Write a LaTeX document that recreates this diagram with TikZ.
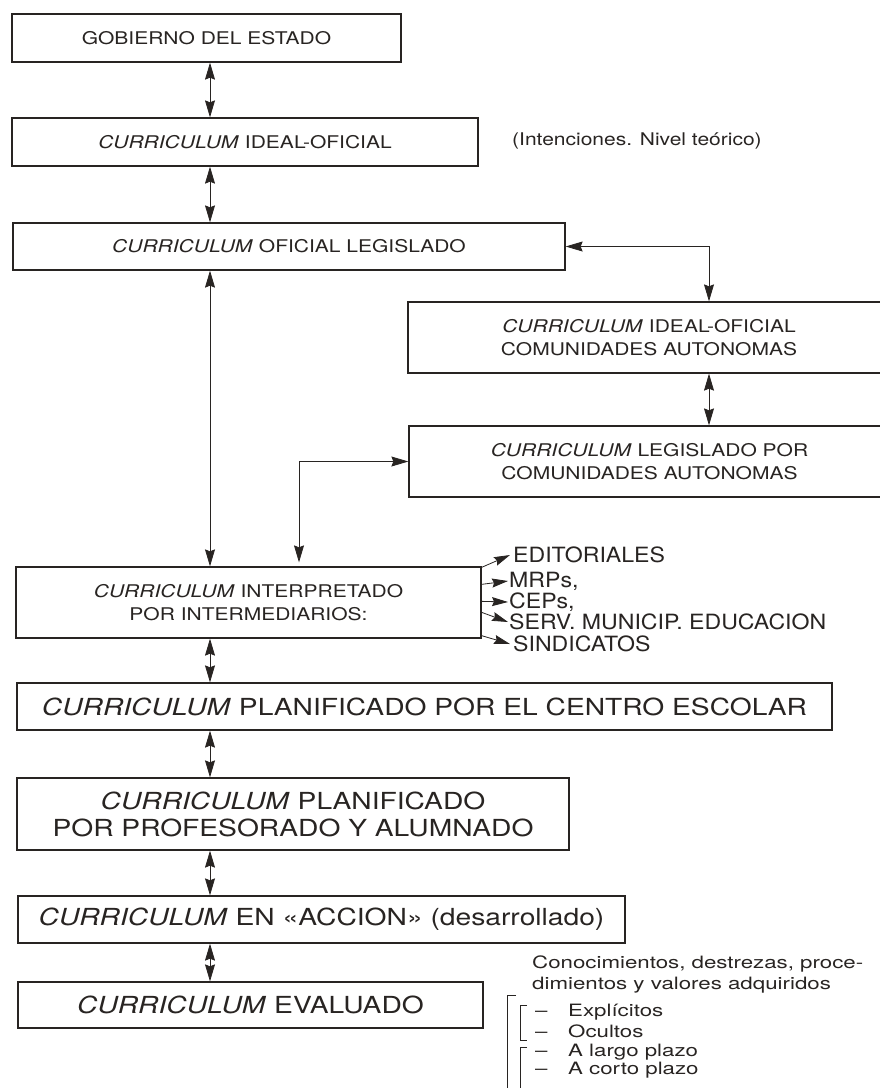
\documentclass[tikz,border=0pt]{standalone}
\usepackage{fontspec}
\setmainfont{TeX Gyre Heros}
\newfontfamily\boxfont[FakeStretch=1.2]{TeX Gyre Heros}
\newfontfamily\bigfont[FakeStretch=1.2]{TeX Gyre Heros}
\newfontfamily\listfont[FakeStretch=1.1]{TeX Gyre Heros}
\newfontfamily\notefont[FakeStretch=1.31]{TeX Gyre Heros}
\usetikzlibrary{arrows.meta}
\definecolor{ink}{RGB}{40,36,34}
\def\curr{\textit{CURRICULUM}}

\tikzset{
  caja/.style={draw=ink, line width=1.3pt, inner sep=0pt, align=center, text=ink},
  chica/.style={caja, font=\boxfont\fontsize{17.5}{23.5}\selectfont},
  grande/.style={caja, font=\bigfont\fontsize{23.5}{27}\selectfont},
  lista/.style={anchor=west, inner sep=0pt, text=ink, font=\listfont\fontsize{21}{24}\selectfont},
  nota/.style={anchor=west, inner sep=0pt, text=ink, font=\notefont\fontsize{17}{20}\selectfont},
  flecha/.style={draw=ink, line width=0.8pt, {Stealth[length=17pt,width=10pt,inset=2pt]}-{Stealth[length=17pt,width=10pt,inset=2pt]}},
  punta/.style={draw=ink, line width=0.8pt, -{Stealth[length=16pt,width=9pt,inset=2pt]}},
}

\begin{document}
\begin{tikzpicture}[x=1pt,y=1pt]
  %%%%% START %%%%%
  \useasboundingbox (0,0) rectangle (879,-1088);

  \coordinate (eje) at (210,0);
  \coordinate (ejeder) at (709,0);
  \coordinate (ejeizq) at (299,0);

  \node[chica, minimum width=389pt, minimum height=48pt] (gob) at (206.5,-38) {GOBIERNO DEL ESTADO};
  \node[chica, minimum width=466pt, minimum height=48pt] (ideal) at (245,-142) {\curr{} IDEAL-OFICIAL};
  \node[anchor=west, inner sep=0pt, text=ink, font=\boxfont\fontsize{17.5}{24}\selectfont] (inten) at (512,-141) {(Intenciones. Nivel teórico)};
  \node[chica, minimum width=552pt, minimum height=47pt] (legis) at (289,-246.5) {\curr{} OFICIAL LEGISLADO};

  \node[chica, minimum width=482pt, minimum height=71pt] (ccaaideal) at (649,-337.5) {\curr{} IDEAL-OFICIAL\\COMUNIDADES AUTONOMAS};
  \node[chica, minimum width=481pt, minimum height=71pt] (ccaaleg) at (649.5,-461.5) {\curr{} LEGISLADO POR\\COMUNIDADES AUTONOMAS};

  \node[chica, minimum width=465pt, minimum height=71pt] (interp) at (248.5,-602.5) {\curr{} INTERPRETADO\\POR INTERMEDIARIOS:};

  \node[lista] (edit) at (513,-555) {EDITORIALES};
  \node[lista] (mrp) at (509,-581) {MRPs,};
  \node[lista] (cep) at (509,-602) {CEPs,};
  \node[lista] (serv) at (509,-622) {SERV. MUNICIP. EDUCACION};
  \node[lista] (sind) at (513,-644) {SINDICATOS};

  \node[grande, minimum width=815pt, minimum height=47pt] (centro) at (424.5,-706.5) {\curr{} PLANIFICADO POR EL CENTRO ESCOLAR};
  \node[grande, minimum width=552pt, minimum height=72pt] (prof) at (293,-814) {\curr{} PLANIFICADO\\POR PROFESORADO Y ALUMNADO};
  \node[grande, minimum width=607pt, minimum height=47pt] (accion) at (321.5,-919.5) {\curr{} EN «ACCION» (desarrollado)};
  \node[grande, minimum width=465pt, minimum height=46pt] (eval) at (250.5,-1005) {\curr{} EVALUADO};

  % notas de la evaluacion
  \node[nota] (con1) at (532,-964) {Conocimientos, destrezas, proce-};
  \node[nota] (con2) at (532,-985) {dimientos y valores adquiridos};
  \node[nota] (expl) at (535,-1012) {\makebox[33pt][l]{–}Explícitos};
  \node[nota] (ocul) at (535,-1031) {\makebox[33pt][l]{–}Ocultos};
  \node[nota] (largo) at (535,-1052) {\makebox[33pt][l]{–}A largo plazo};
  \node[nota] (corto) at (535,-1070) {\makebox[33pt][l]{–}A corto plazo};
  \draw[ink, line width=0.4pt] (516,-995) -- (507,-995) -- (507,-1090);
  \draw[ink, line width=0.5pt] (527,-1005) -- (520,-1005) -- (520,-1040) -- (527,-1040);
  \draw[ink, line width=0.5pt] (527,-1047) -- (520,-1047) -- (520,-1090);

  % conectores
  \draw[flecha] (gob.south -| eje) -- (ideal.north -| eje);
  \draw[flecha] (ideal.south -| eje) -- (legis.north -| eje);
  \draw[flecha] (legis.south -| eje) -- (interp.north -| eje);
  \draw[flecha] (legis.east) -| (ccaaideal.north -| ejeder);
  \draw[flecha] (ccaaideal.south -| ejeder) -- (ccaaleg.north -| ejeder);
  \draw[flecha] (ccaaleg.west) -| ([yshift=4pt]interp.north -| ejeizq);
  \draw[flecha] (interp.south -| eje) -- (centro.north -| eje);
  \draw[flecha] (centro.south -| eje) -- (prof.north -| eje);
  \draw[flecha] (prof.south -| eje) -- (accion.north -| eje);
  \draw[flecha] (accion.south -| eje) -- (eval.north -| eje);

  \draw[punta] ([yshift=-1pt]interp.north east) -- ([xshift=-3pt]edit.west);
  \draw[punta] ([yshift=-18pt]interp.north east) -- ([xshift=-1pt]mrp.west);
  \draw[punta] ([yshift=-35pt]interp.north east) -- ([xshift=-1pt]cep.west);
  \draw[punta] ([yshift=-46pt]interp.north east) -- ([xshift=-1pt]serv.west);
  \draw[punta] ([yshift=3pt]interp.south east) -- ([xshift=-3pt]sind.west);
  %%%%% END %%%%%
\end{tikzpicture}
\end{document}
